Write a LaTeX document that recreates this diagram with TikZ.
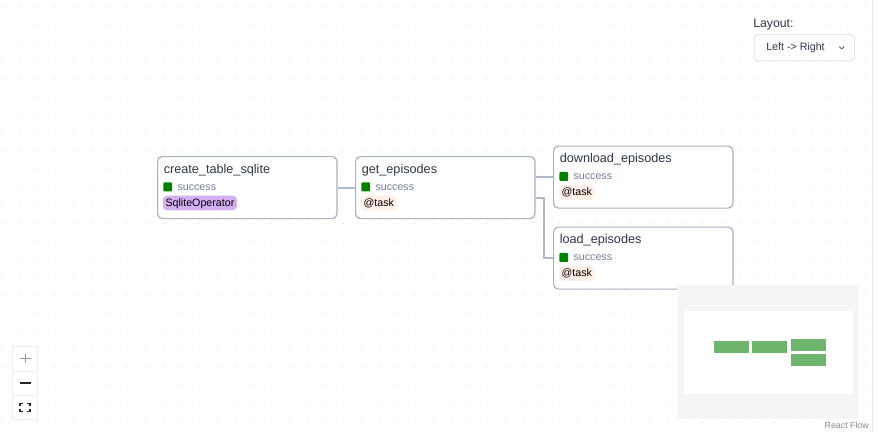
\documentclass[tikz,border=0pt]{standalone}
\usepackage{fontspec}
\setmainfont{Liberation Sans}
\usetikzlibrary{calc,positioning}

\definecolor{boxline}{HTML}{A7B2C2}
\definecolor{edgecol}{HTML}{B1BACA}
\definecolor{titlecol}{HTML}{2D3748}
\definecolor{statuscol}{HTML}{718096}
\definecolor{okgreen}{HTML}{008000}
\definecolor{opsqlite}{HTML}{D4B0F2}
\definecolor{optask}{HTML}{FFEFE6}
\definecolor{dotcol}{HTML}{E0E0E0}
\definecolor{minigray}{HTML}{F5F5F5}
\definecolor{minigreen}{HTML}{6DB56D}
\definecolor{paneline}{HTML}{E2E8F0}

\begin{document}
\begin{tikzpicture}[x=0.75pt,y=-0.75pt,
    task node/.style={draw=boxline,line width=0.9pt,rounded corners=3.5pt,fill=white,
                      minimum width=134.5pt,minimum height=46.5pt,inner sep=0pt},
    title text/.style={inner sep=0pt,text=titlecol,font=\fontsize{9.5}{11}\selectfont},
    status dot/.style={fill=okgreen,rounded corners=0.8pt,minimum size=6.7pt,inner sep=0pt},
    status text/.style={inner sep=0pt,text=statuscol,font=\fontsize{8}{10}\selectfont},
    op tag/.style={inner xsep=2pt,inner ysep=0pt,text height=7.7pt,text depth=3.2pt,
                   rounded corners=3pt,text=black,font=\fontsize{8}{10}\selectfont},
    flow edge/.style={draw=edgecol,line width=1.5pt},
    mini box/.style={fill=minigreen,minimum width=26pt,minimum height=9pt,inner sep=0pt},
    control button/.style={draw=black!7,fill=white,minimum width=18.75pt,inner sep=0pt}]

    \useasboundingbox[fill=white] (0,0) rectangle (881,432);

    % background grid
    \foreach \i in {0,...,48}
      \foreach \j in {0,...,23}
        \fill[dotcol] (1+18*\i,7+18*\j) rectangle ++(1,1);

    \draw[paneline,line width=0.8pt] (872.3,0) -- (872.3,432);

    % tasks
    \foreach \name/\px/\py/\label/\op/\tagcol in
        {create/157/156/create\_table\_sqlite/SqliteOperator/opsqlite,
         get/355/156/get\_episodes/@task/optask,
         download/553/145.5/download\_episodes/@task/optask,
         load/553/226.5/load\_episodes/@task/optask}
    {
      \node[task node,anchor=north west] (\name) at (\px,\py) {};
      \node[title text,anchor=base west] (\name title) at ([shift={(6.5,17)}]\name.north west) {\label};
      \node[status dot,anchor=north west] (\name dot) at ([shift={(6,26.2)}]\name.north west) {};
      \node[status text,anchor=base west] (\name status) at ([shift={(20.3,34)}]\name.north west) {success};
      \node[op tag,fill=\tagcol,anchor=base west] (\name op) at ([shift={(5.6,50)}]\name.north west) {\op};
    }

    \draw[flow edge] (create) -- (get);
    \draw[flow edge] (get.east |- download.west) -- (download.west);
    \draw[flow edge] ([shift={(0,10.5)}]get.east) -- ++(8.5,0) |- (load.west);

    % layout selector
    \node[anchor=base west,inner sep=0pt,text=titlecol,font=\fontsize{9.2}{11}\selectfont]
        (layoutlabel) at (753,27.5) {Layout:};
    \node[draw=paneline,line width=0.8pt,rounded corners=3.5pt,anchor=north west,
          minimum width=75.5pt,minimum height=19.8pt,inner sep=0pt] (layoutselect) at (753.5,34) {};
    \node[anchor=base west,inner sep=0pt,text=titlecol,font=\fontsize{8}{10}\selectfont]
        (layoutvalue) at (766,50.5) {Left -> Right};
    \draw[black!60,line width=0.7pt] (839.3,46.5) -- (841.7,49) -- (844.1,46.5);

    % minimap
    \node[fill=minigray,anchor=north west,minimum width=135pt,minimum height=100.5pt,inner sep=0pt]
        (minimap) at (678,285) {};
    \node[fill=white,anchor=north west,minimum width=126.7pt,minimum height=62.3pt,inner sep=0pt]
        (minimapview) at (683.5,311) {};
    \node[mini box,anchor=north west] (minicreate) at (714,341) {};
    \node[mini box,anchor=north west] (miniget) at (752,341) {};
    \node[mini box,anchor=north west] (minidownload) at (791,339) {};
    \node[mini box,anchor=north west] (miniload) at (791,354) {};
    \node[anchor=base east,inner sep=0pt,text=black!45,font=\fontsize{6.6}{8}\selectfont]
        (reactflow) at (869,428) {React Flow};

    % zoom controls
    \node[control button,anchor=north west,minimum height=18.75pt] (zoomin) at (12.3,346) {};
    \node[control button,anchor=north west,minimum height=18pt] (zoomout) at (12.3,371) {};
    \node[control button,anchor=north west,minimum height=18pt] (fitview) at (12.3,395) {};
    \draw[black!40,line width=0.8pt] ([shift={(-5.5,0)}]zoomin.center) -- ++(11,0)
                                     ([shift={(0,-4.5)}]zoomin.center) -- ++(0,9);
    \draw[black!85,line width=1.4pt] ([shift={(-5.5,0)}]zoomout.center) -- ++(11,0);
    \draw[black!85,line width=1pt]
        ([shift={(-5,-1)}]fitview.center) -- ++(0,-3) -- ++(3,0)
        ([shift={(2,-4)}]fitview.center) -- ++(3,0) -- ++(0,3)
        ([shift={(5,1.5)}]fitview.center) -- ++(0,3) -- ++(-3,0)
        ([shift={(-2,4.5)}]fitview.center) -- ++(-3,0) -- ++(0,-3);
\end{tikzpicture}
\end{document}
